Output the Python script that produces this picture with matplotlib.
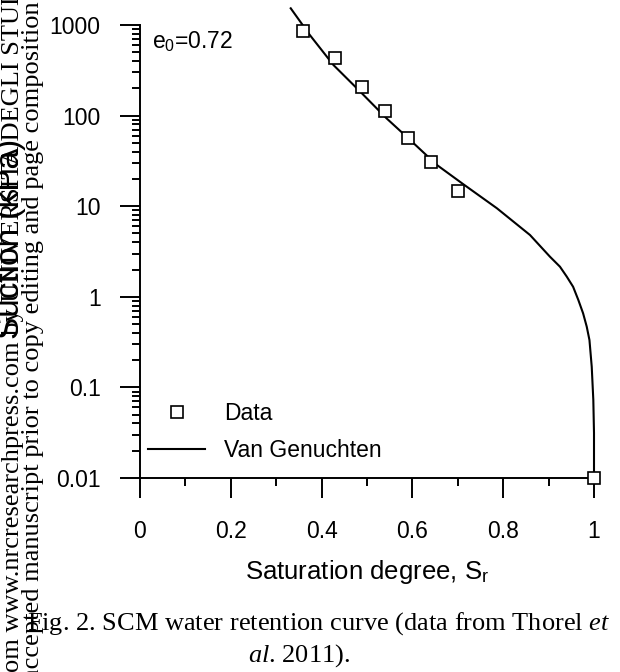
import matplotlib
matplotlib.use('Agg')
import matplotlib.pyplot as plt
from matplotlib.ticker import MultipleLocator, FixedLocator, FixedFormatter, NullFormatter, LogLocator

plt.rcParams['font.family'] = ['Liberation Sans', 'DejaVu Sans']
plt.rcParams['mathtext.fontset'] = 'custom'
plt.rcParams['mathtext.rm'] = 'Liberation Serif'
plt.rcParams['mathtext.it'] = 'Liberation Serif:italic'

# measured points (Thorel et al. 2011)
sr_data = [0.36, 0.43, 0.49, 0.54, 0.59, 0.64, 0.70, 1.0]
suction_data = [860, 430, 205, 112, 57, 31, 14.7, 0.01]

# Van Genuchten curve
curve_sr = [0.332, 0.374, 0.426, 0.485, 0.543, 0.595, 0.654, 0.712, 0.786, 0.859,
            0.903, 0.925, 0.940, 0.954, 0.9655, 0.976, 0.984, 0.990, 0.995, 0.9985, 1.0, 1.0]
curve_suction = [1528, 776, 362, 184, 93.3, 53.8, 28.5, 17.5, 9.5, 4.81,
                 2.77, 2.15, 1.67, 1.29, 0.922, 0.657, 0.468, 0.333, 0.169, 0.0726, 0.0314, 0.0104]

x_ticks = [0, 0.2, 0.4, 0.6, 0.8, 1.0]
x_ticklabels = ['0', '0.2', '0.4', '0.6', '0.8', '1']
y_ticks = [0.01, 0.1, 1, 10, 100, 1000]
y_ticklabels = ['0.01', '0.1', '1', '10', '100', '1000']

W, H = 620, 672
fig = plt.figure(figsize=(W / 100, H / 100), dpi=100)
ax = fig.add_axes([140 / W, 1 - 478 / H, 454 / W, 453 / H])

ax.plot(curve_sr, curve_suction, color='black', lw=1.5, clip_on=False, label='Van Genuchten', zorder=2)
ax.plot(sr_data, suction_data, linestyle='none', marker='s', ms=8, mfc='white', mec='black',
        mew=1.2, clip_on=False, label='Data', zorder=3)

ax.set_yscale('log')
ax.set_xlim(0, 1)
ax.set_ylim(0.01, 1000)

ax.xaxis.set_major_locator(FixedLocator(x_ticks))
ax.xaxis.set_major_formatter(FixedFormatter(x_ticklabels))
ax.xaxis.set_minor_locator(MultipleLocator(0.1))
ax.yaxis.set_major_locator(FixedLocator(y_ticks))
ax.yaxis.set_major_formatter(FixedFormatter(y_ticklabels))
ax.yaxis.set_minor_locator(LogLocator(base=10, subs=range(2, 10)))
ax.yaxis.set_minor_formatter(NullFormatter())

for side in ['top', 'right']:
    ax.spines[side].set_visible(False)
for side in ['left', 'bottom']:
    ax.spines[side].set_linewidth(1.4)

ax.tick_params(which='major', direction='out', length=14.4, width=1.4, labelsize=16.5)
ax.tick_params(which='minor', direction='out', length=6, width=1.4)
ax.tick_params(axis='y', which='major', pad=14)
ax.tick_params(axis='x', which='major', pad=16)

ax.set_xlabel(r'Saturation degree, S$_\mathregular{r}$', fontsize=18.5, labelpad=11)

ax.text((152 - 140) / 454, 1 - (49 - 25) / 453, r'e$_\mathregular{0}$=0.72', transform=ax.transAxes,
        fontsize=16.5, ha='left', va='baseline')

ax.legend(loc='upper left', bbox_to_anchor=(148 / W, 1 - 402 / H), bbox_transform=fig.transFigure,
          frameon=False, fontsize=16.5, handlelength=2.5, handletextpad=0.8, labelspacing=0.6,
          borderpad=0, borderaxespad=0, reverse=True)

# y label (page crop leaves it half off the edge)
fig.text(19 / W, 1 - 239 / H, 'Suction (kPa)', rotation=90, rotation_mode='anchor',
         ha='center', va='baseline', fontsize=24)

# page watermark lines
serif = ['Liberation Serif', 'DejaVu Serif']
fig.text(19 / W, 1 - 672 / H, 'om www.nrcresearchpress.com by UNIVERSITA DEGLI STUDI',
         rotation=90, rotation_mode='anchor', ha='left', va='baseline', fontsize=19, family=serif)
fig.text(39 / W, 1 - 680 / H, 'accepted manuscript prior to copy editing and page composition',
         rotation=90, rotation_mode='anchor', ha='left', va='baseline', fontsize=19, family=serif)

# caption
fig.text(27 / W, 1 - 630 / H, r'Fig. 2. SCM water retention curve (data from Thorel $\mathit{et}$',
         ha='left', va='baseline', fontsize=19, family=serif)
fig.text(248 / W, 1 - 662 / H, r'$\mathit{al}$. 2011).',
         ha='left', va='baseline', fontsize=19, family=serif)

fig.savefig('out.png', dpi=100)
